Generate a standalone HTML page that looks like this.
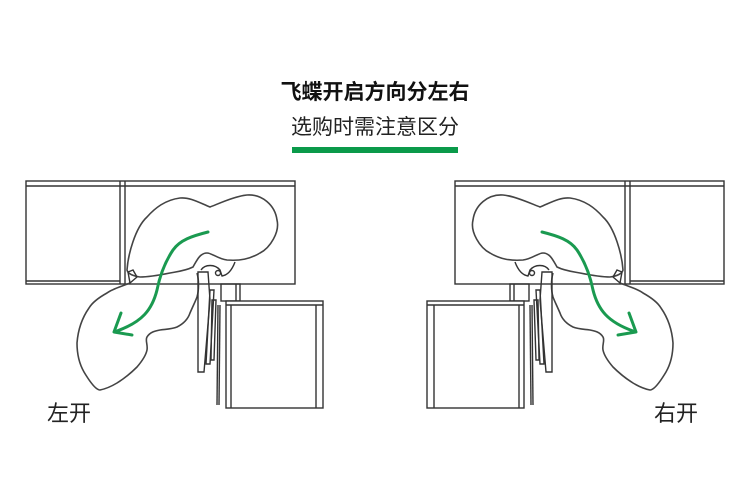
<!DOCTYPE html>
<html><head><meta charset="utf-8"><style>
html,body{margin:0;padding:0;background:#fff;width:750px;height:503px;overflow:hidden}
</style></head><body>
<svg width="750" height="503" viewBox="0 0 750 503" xmlns="http://www.w3.org/2000/svg">
<text x="375" y="99" text-anchor="middle" font-family="Liberation Sans, Noto Sans CJK SC, sans-serif" font-size="21" font-weight="bold" fill="#111">飞蝶开启方向分左右</text>
<text x="375" y="134" text-anchor="middle" font-family="Liberation Sans, Noto Sans CJK SC, sans-serif" font-size="21" fill="#222">选购时需注意区分</text>
<rect x="292" y="147" width="166" height="6" fill="#0a9a4a"/>
<defs>
<g id="d" fill="none" stroke="#333" stroke-width="1.4">
  <rect x="26" y="181" width="269" height="103" fill="#fff"/>
  <line x1="26" y1="186" x2="295" y2="186"/>
  <line x1="26" y1="281" x2="120" y2="281"/>
  <line x1="120" y1="181" x2="120" y2="284"/>
  <line x1="125" y1="181" x2="125" y2="284"/>
  <rect x="221" y="284" width="19" height="17"/>
  <line x1="236" y1="284" x2="236" y2="301"/>
  <rect x="226" y="301" width="97" height="107" fill="#fff"/>
  <line x1="226" y1="305" x2="323" y2="305"/>
  <line x1="231" y1="305" x2="231" y2="408"/>
  <line x1="316" y1="305" x2="316" y2="408"/>
  <path d="M127,270 C128,255 135,228 147,217 C155,208 165,200 180,198 C190,197 200,203 210,207 C218,204 235,196 247,195 C262,194 275,205 277,220 C280,232 270,248 260,253 C250,259 240,261 227,260 C218,259 212,253 207,253 C200,253 197,260 193,267 C185,271 175,272 170,273 C160,275 148,277 140,277 C133,276 128,274 127,270 Z" stroke="#444" stroke-width="1.6"/>
  <path d="M130,283 C120,287 112,289 107,293 C98,298 92,303 89,308 C82,318 78,330 77,343 C77,355 80,365 84,372 C90,382 96,390 100,390 C105,389 112,386 117,383 C125,378 132,372 137,367 C143,360 146,355 147,350 C148,345 145,340 147,337 C150,332 155,331 160,330 C168,329 172,329 177,327 C183,324 188,319 190,313 C193,306 196,300 197,297 C199,290 199,280 197,273" stroke="#444" stroke-width="1.6"/>
  <path d="M130,283 L137,277 L133,270 L128,272 Z"/>
  <path d="M201,270 C205,264 215,264 220,270 L222,276 C228,275 232,270 235,262"/>
  <circle cx="218" cy="273" r="2.5"/>
  <path d="M198,272 L208,272 L210,300 L204,372 L198,372 Z"/>
  <path d="M210,290 L214,290 L210,364 L206,364 Z"/>
  <path d="M212,300 L216,300 L214,360 L211,360 Z"/>
  <line x1="218" y1="305" x2="217" y2="405"/>
  <line x1="220" y1="305" x2="219" y2="405"/>
</g>
</defs>
<use href="#d"/>
<use href="#d" transform="translate(750,0) scale(-1,1)"/>
<g fill="none" stroke="#1a9a50" stroke-width="3" stroke-linecap="round" stroke-linejoin="round">
  <path d="M208,232 C192,236 180,240 173,250 C165,262 160,275 157,290 C152,310 142,322 117,331"/>
  <path d="M121,313 L114,332 L132,335"/>
  <path d="M542,232 C558,236 570,240 577,250 C585,262 590,275 593,290 C598,310 608,322 633,331"/>
  <path d="M629,313 L636,332 L618,335"/>
</g>
<text x="47" y="421" font-family="Liberation Sans, Noto Sans CJK SC, sans-serif" font-size="22" fill="#222">左开</text>
<text x="654" y="421" font-family="Liberation Sans, Noto Sans CJK SC, sans-serif" font-size="22" fill="#222">右开</text>
</svg>
</body></html>
